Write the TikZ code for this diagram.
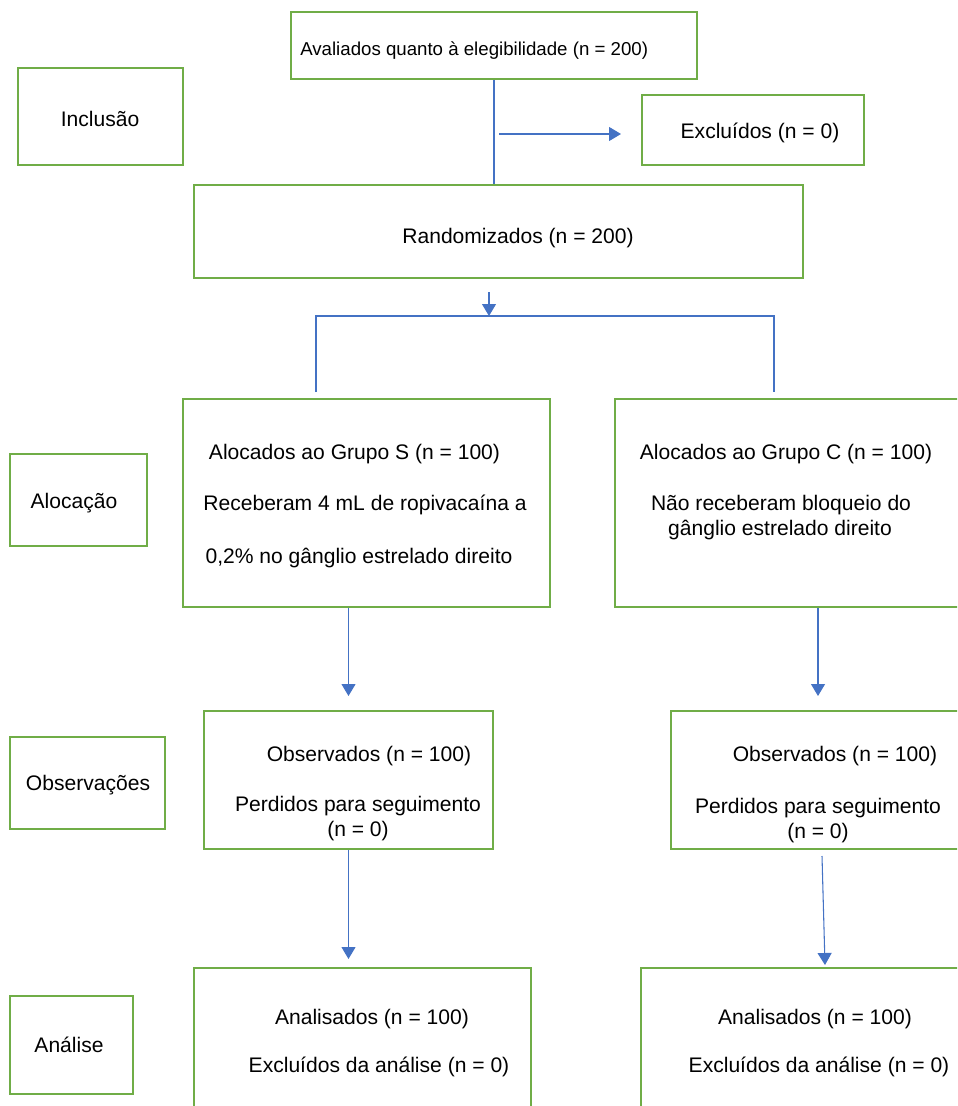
\documentclass[tikz,border=0pt]{standalone}
\usepackage{fontspec}
\setmainfont{Liberation Sans}
\usetikzlibrary{positioning,calc,arrows.meta}

\definecolor{boxgreen}{RGB}{112,173,71}
\definecolor{linkblue}{RGB}{68,114,196}

\begin{document}
\begin{tikzpicture}[
    x=0.75pt, y=-0.75pt,
    box/.style={rectangle, draw=boxgreen, line width=1.5pt, inner sep=0pt},
    txt/.style={font=\fontsize{15.8}{19}\selectfont, inner sep=0pt, anchor=base},
    link/.style={draw=linkblue, line width=0.8pt},
    arr/.style={link, -{Triangle[width=10.5pt,length=9pt]}},
]
\useasboundingbox (0,0) rectangle (957,1106);
\clip (0,0) rectangle (957,1106);

% stage labels
\node[box, minimum width=123.75pt, minimum height=72.75pt] (incl) at (100.5,116.5) {};
\node[box, minimum width=102.75pt, minimum height=69pt] (aloc) at (78.5,500) {};
\node[box, minimum width=116.25pt, minimum height=69pt] (obsL) at (87.5,783) {};
\node[box, minimum width=92.25pt, minimum height=73.5pt] (anaL) at (71.5,1045) {};
\node[txt] (inclT) at (100,126.5) {Inclusão};
\node[txt] (alocT) at (74,508.5) {Alocação};
\node[txt] (obsLT) at (88,790.5) {Observações};
\node[txt] (anaLT) at (69,1052.5) {Análise};

% enrolment
\node[box, minimum width=304.5pt, minimum height=50.25pt] (elig) at (494,45.5) {};
\node[box, minimum width=166.5pt, minimum height=52.5pt] (excl) at (753,130) {};
\node[box, minimum width=456.75pt, minimum height=69.75pt] (rand) at (498.5,231.5) {};
\node[txt, anchor=base west, font=\fontsize{14}{17}\selectfont] (eligT) at (300,56) {Avaliados quanto à elegibilidade (n = 200)};
\node[txt] (exclT) at (760,138.5) {Excluídos (n = 0)};
\node[txt] (randT) at (518,243.5) {Randomizados (n = 200)};

% groups
\node[box, minimum width=275.25pt, minimum height=156pt] (grpS) at (366.5,503) {};
\node[box, minimum width=304.5pt, minimum height=156pt] (grpC) at (818,503) {};
\node[txt] (grpS1) at (354.5,459.5) {Alocados ao Grupo S (n = 100)};
\node[txt] (grpS2) at (365,510.5) {Receberam 4 mL de ropivacaína a};
\node[txt] (grpS3) at (359,563.5) {0,2\% no gânglio estrelado direito};
\node[txt] (grpC1) at (786,459.5) {Alocados ao Grupo C (n = 100)};
\node[txt] (grpC2) at (781,510.5) {Não receberam bloqueio do};
\node[txt] (grpC3) at (780,535.5) {gânglio estrelado direito};

\node[box, minimum width=216.75pt, minimum height=103.5pt] (obsS) at (348.5,780) {};
\node[box, minimum width=226.5pt, minimum height=103.5pt] (obsC) at (822,780) {};
\node[txt] (obsS1) at (369,761.5) {Observados (n = 100)};
\node[txt] (obsS2) at (358,811.5) {Perdidos para seguimento};
\node[txt] (obsS3) at (358,836.5) {(n = 0)};
\node[txt] (obsC1) at (835,761.5) {Observados (n = 100)};
\node[txt] (obsC2) at (818,813.5) {Perdidos para seguimento};
\node[txt] (obsC3) at (818,838.5) {(n = 0)};

\node[box, minimum width=252.75pt, minimum height=144pt] (anaS) at (362.5,1064) {};
\node[box, minimum width=276pt, minimum height=144pt] (anaC) at (825,1064) {};
\node[txt] (anaS1) at (372,1024.5) {Analisados (n = 100)};
\node[txt] (anaS2) at (379,1072.5) {Excluídos da análise (n = 0)};
\node[txt] (anaC1) at (815,1024.5) {Analisados (n = 100)};
\node[txt] (anaC2) at (819,1072.5) {Excluídos da análise (n = 0)};

% connectors
\coordinate (forkL) at (316,316);
\coordinate (forkM) at (489,316);
\coordinate (forkR) at (774,316);

\draw[link] (elig.south) -- (elig.south |- rand.north);
\draw[arr] ($(elig.south |- excl.west)+(5,4)$) -- ($(excl.west)+(-20,4)$);
\draw[arr] ($(forkM)+(0,-24)$) -- (forkM);
\draw[link] ($(forkL |- grpS.north)+(0,-6)$) -- (forkL) -- (forkR) -- ($(forkR |- grpC.north)+(0,-6)$);
\draw[arr] (grpS.south -| obsS.north) -- ($(obsS.north)+(0,-14)$);
\draw[arr] (grpC.south) -- ($(grpC.south |- obsC.north)+(0,-14)$);
\draw[arr] (obsS.south) -- ($(obsS.south |- anaS.north)+(0,-8)$);
\draw[arr] ($(obsC.south)+(0,6)$) -- ($(anaC.north)+(0,-2)$);
\end{tikzpicture}
\end{document}
